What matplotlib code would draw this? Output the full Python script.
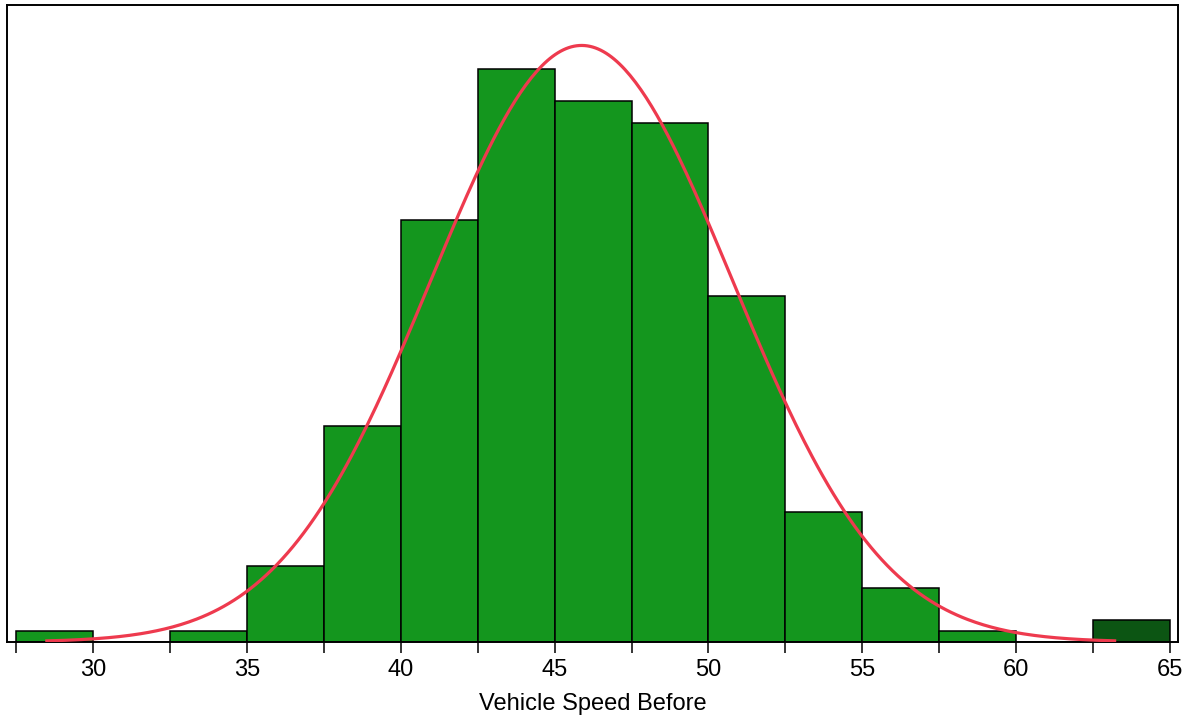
import numpy as np
import matplotlib
matplotlib.use("Agg")
import matplotlib.pyplot as plt

# Histogram bins (left edges) and counts
bin_edges = [27.5, 30.0, 32.5, 35.0, 37.5, 40.0, 42.5, 45.0, 47.5, 50.0,
             52.5, 55.0, 57.5, 60.0, 62.5, 65.0]
counts = [1, 0, 1, 7, 20, 39, 53, 50, 48, 32, 12, 5, 1, 0, 2]
highlight = [False] * 14 + [True]

# Fitted normal curve parameters
fit_mean = 45.88
fit_sd = 4.9
curve_range = (28.5, 63.2)

xticks = [30, 35, 40, 45, 50, 55, 60, 65]
xlabel = "Vehicle Speed Before"

plt.rcParams['font.family'] = ['Liberation Sans', 'DejaVu Sans']

fig = plt.figure(figsize=(11.93, 7.19), dpi=100)
ax = fig.add_axes([0.00587, 0.1071, 0.98156, 0.88595])

edges = np.array(bin_edges)
widths = np.diff(edges)
colors = ['#0C5513' if h else '#14961E' for h in highlight]
ax.bar(edges[:-1], counts, width=widths, align='edge', color=colors,
       edgecolor='black', linewidth=1.1, zorder=2)

n_total = sum(counts)
bw = widths[0]
xs = np.linspace(curve_range[0], curve_range[1], 400)
ys = n_total * bw * np.exp(-0.5 * ((xs - fit_mean) / fit_sd) ** 2) / (fit_sd * np.sqrt(2 * np.pi))
ax.plot(xs, ys, color='#EE3A4E', linewidth=2.3, zorder=3)

ax.set_xlim(27.205, 65.26)
ax.set_ylim(0, 58.9)
ax.set_yticks([])
ax.set_xticks(edges)
ax.set_xticklabels([str(int(e)) if e in xticks else '' for e in edges], fontsize=17)
ax.tick_params(axis='x', length=8, width=1.1, pad=4, colors='black')
ax.set_xlabel(xlabel, fontsize=17, labelpad=9)
for s in ax.spines.values():
    s.set_linewidth(1.4)
    s.set_color('black')

fig.savefig("out.png", dpi=100)
